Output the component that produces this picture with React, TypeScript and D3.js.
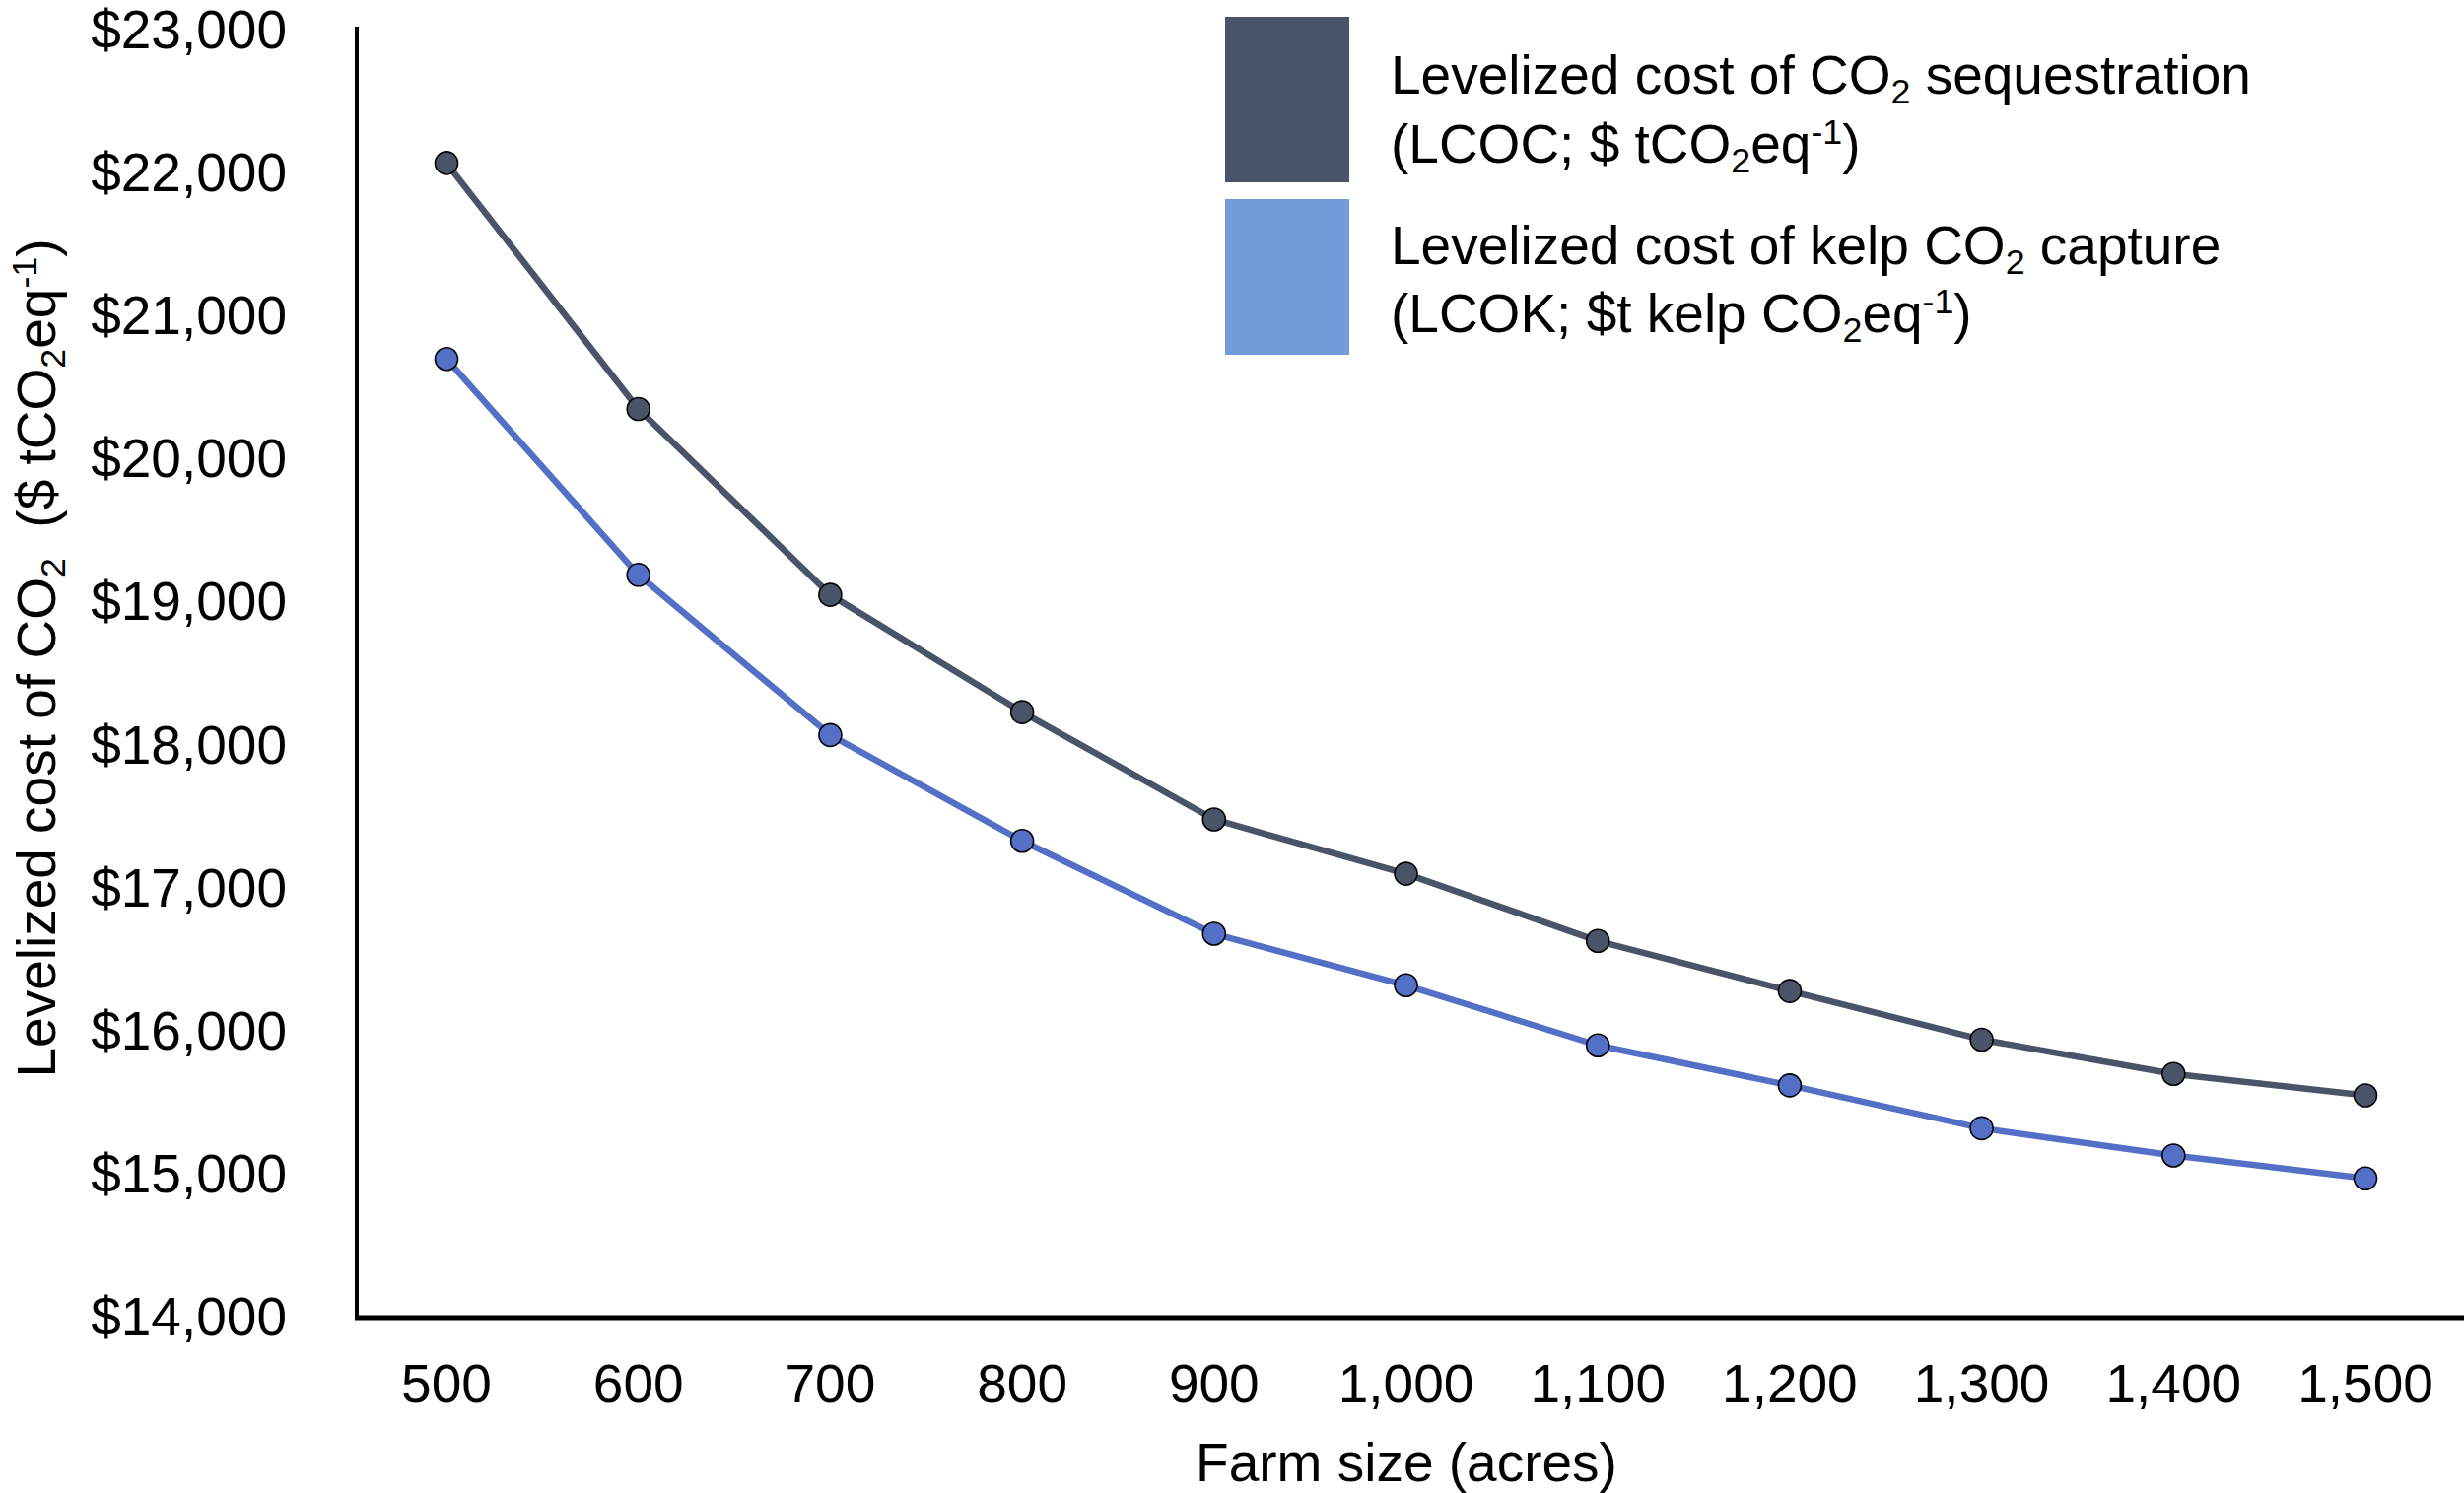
import React from "react";
import * as d3 from "d3";

// farm sizes (acres)
const farmSizes = [500, 600, 700, 800, 900, 1000, 1100, 1200, 1300, 1400, 1500];
// levelized cost of CO2 sequestration (LCOC)
const lcoc = [22060, 20340, 19040, 18220, 17470, 17090, 16620, 16270, 15930, 15690, 15540];
// levelized cost of kelp CO2 capture (LCOK)
const lcok = [20690, 19180, 18060, 17320, 16670, 16310, 15890, 15610, 15310, 15120, 14960];
const yTicks = [14000, 15000, 16000, 17000, 18000, 19000, 20000, 21000, 22000, 23000];

const W = 2500;
const H = 1515;
const FONT = "Liberation Sans, Arial, sans-serif";
const FS = 55;
const SMALL = FS * 0.65;

const DARK = "#4a5468";
const BLUE = "#5470c6";
const BLUE_LEGEND = "#729cd7";

const x = d3.scaleLinear().domain([500, 1500]).range([453, 2400]);
const y = d3.scaleLinear().domain([14000, 23000]).range([1335, 29]);

const line = d3
  .line<number>()
  .x((_d, i) => x(farmSizes[i]))
  .y((d) => y(d));

const fmtX = d3.format(",");
const fmtY = (v: number) => "$" + d3.format(",")(v);

// rich text: "_x" = subscript, "^x" = superscript, others normal
function Rich({ parts }: { parts: string[] }) {
  let level = 0;
  return (
    <>
      {parts.map((p, i) => {
        let target = 0;
        let txt = p;
        if (p.startsWith("_")) {
          target = 10;
          txt = p.slice(1);
        } else if (p.startsWith("^")) {
          target = -19;
          txt = p.slice(1);
        }
        const dy = target - level;
        level = target;
        return (
          <tspan key={i} dy={dy} fontSize={target === 0 ? FS : SMALL}>
            {txt}
          </tspan>
        );
      })}
    </>
  );
}

function Series({ values, color }: { values: number[]; color: string }) {
  return (
    <g>
      <path d={line(values) || ""} fill="none" stroke={color} strokeWidth={6.5} strokeLinejoin="round" />
      {values.map((v, i) => (
        <circle key={i} cx={x(farmSizes[i])} cy={y(v)} r={11.5} fill={color} stroke="#000" strokeWidth={1.6} />
      ))}
    </g>
  );
}

export default function App() {
  return (
    <svg
      width={W}
      height={H}
      viewBox={`0 0 ${W} ${H}`}
      style={{ position: "absolute", left: 0, top: 0, background: "#fff" }}
      fontFamily={FONT}
    >
      <rect width={W} height={H} fill="#fff" />

      {/* axes */}
      <line x1={362} x2={362} y1={27} y2={1337} stroke="#000" strokeWidth={4} />
      <line x1={360} x2={W} y1={1337} y2={1337} stroke="#000" strokeWidth={5} />

      {/* y tick labels */}
      {yTicks.map((t) => (
        <text key={t} x={291} y={y(t) + 20} fontSize={FS} textAnchor="end" fill="#000">
          {fmtY(t)}
        </text>
      ))}

      {/* x tick labels */}
      {farmSizes.map((t) => (
        <text key={t} x={x(t)} y={1423} fontSize={FS} textAnchor="middle" fill="#000">
          {fmtX(t)}
        </text>
      ))}

      {/* axis titles */}
      <text x={1427} y={1503} fontSize={FS} textAnchor="middle" fill="#000">
        Farm size (acres)
      </text>
      <text transform="translate(56,668) rotate(-90)" fontSize={FS} textAnchor="middle" fill="#000">
        <Rich parts={["Levelized cost of CO", "_2", "\u00a0\u00a0($ tCO", "_2", "eq", "^-1", ")"]} />
      </text>

      {/* series */}
      <Series values={lcoc} color={DARK} />
      <Series values={lcok} color={BLUE} />

      {/* legend */}
      <rect x={1243} y={17} width={126} height={168} fill={DARK} />
      <rect x={1243} y={202} width={126} height={158} fill={BLUE_LEGEND} />
      <text x={1411} y={95} fontSize={FS} fill="#000">
        <Rich parts={["Levelized cost of CO", "_2", " sequestration"]} />
      </text>
      <text x={1411} y={165} fontSize={FS} fill="#000">
        <Rich parts={["(LCOC; $ tCO", "_2", "eq", "^-1", ")"]} />
      </text>
      <text x={1411} y={268} fontSize={FS} fill="#000">
        <Rich parts={["Levelized cost of kelp CO", "_2", " capture"]} />
      </text>
      <text x={1411} y={337} fontSize={FS} fill="#000">
        <Rich parts={["(LCOK; $t kelp CO", "_2", "eq", "^-1", ")"]} />
      </text>
    </svg>
  );
}
